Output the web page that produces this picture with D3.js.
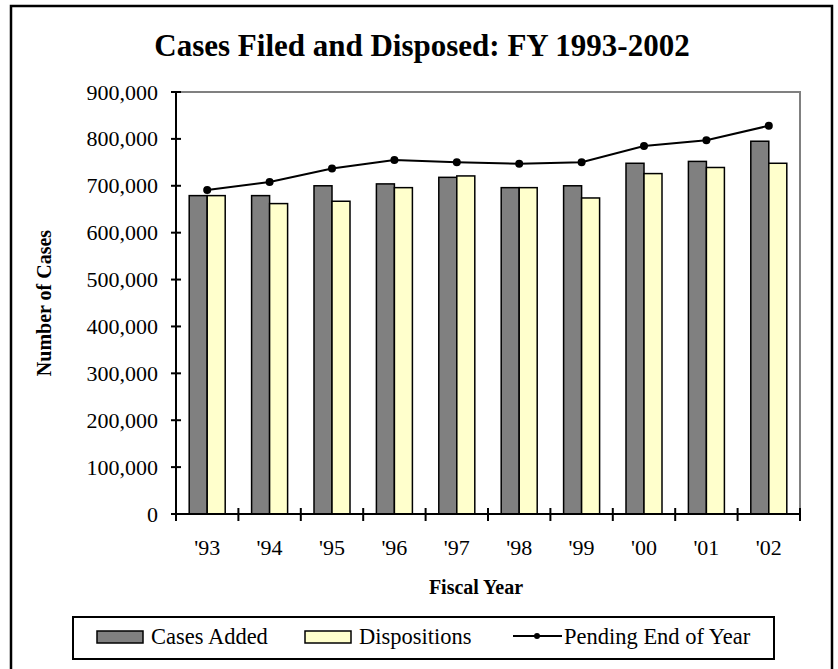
<!DOCTYPE html>
<html lang="en">
<head>
    <meta charset="UTF-8">
    <title>Cases Filed and Disposed: FY 1993-2002</title>
    <script src="https://d3js.org/d3.v7.min.js"></script>
    <style>
        body {
            margin: 0;
            padding: 0;
            background-color: white;
        }
        svg {
            display: block;
            font-family: 'Liberation Serif', 'Times New Roman', serif;
        }
        .title {
            font-size: 31px;
            font-weight: bold;
            text-anchor: middle;
        }
        .axis-title {
            font-size: 20px;
            font-weight: bold;
            text-anchor: middle;
        }
        .tick-label {
            font-size: 22px;
        }
        .legend-label {
            font-size: 22.5px;
        }
    </style>
</head>
<body>
    <svg width="838" height="669"></svg>

    <script>
        const years = ["'93", "'94", "'95", "'96", "'97", "'98", "'99", "'00", "'01", "'02"];
        const casesAdded = [679000, 679000, 700000, 704000, 718000, 696000, 700000, 748000, 752000, 795000];
        const dispositions = [679000, 662000, 667000, 696000, 721000, 696000, 674000, 726000, 739000, 748000];
        const pending = [691000, 708000, 737000, 755000, 750000, 747000, 750000, 785000, 797000, 828000];
        const yTicks = [0, 100000, 200000, 300000, 400000, 500000, 600000, 700000, 800000, 900000];

        const svg = d3.select("svg");

        const margin = { left: 176, top: 92, right: 800, bottom: 514 };
        const plotW = margin.right - margin.left;
        const plotH = margin.bottom - margin.top;

        // outer frame (bottom runs off the page)
        svg.append("path")
           .attr("d", "M11,675 L11,6 L832,6 L832,675")
           .attr("fill", "none")
           .attr("stroke", "black")
           .attr("stroke-width", 2.5);

        svg.append("text")
           .attr("class", "title")
           .attr("x", 422)
           .attr("y", 56)
           .text("Cases Filed and Disposed: FY 1993-2002");

        const g = svg.append("g")
                     .attr("transform", "translate(" + margin.left + "," + margin.top + ")");

        const xScale = d3.scaleBand()
                         .domain(years)
                         .range([0, plotW]);

        const groupW = 36;
        const xSub = d3.scaleBand()
                       .domain(["added", "disp"])
                       .range([(xScale.bandwidth() - groupW) / 2, (xScale.bandwidth() + groupW) / 2]);

        const yScale = d3.scaleLinear()
                         .domain([0, 900000])
                         .range([plotH, 0]);

        // gray plot-area border on top and right
        g.append("path")
         .attr("d", "M0,0 L" + plotW + ",0 L" + plotW + "," + plotH)
         .attr("fill", "none")
         .attr("stroke", "#808080")
         .attr("stroke-width", 2);

        const series = [
            { key: "added", values: casesAdded, color: "#808080" },
            { key: "disp", values: dispositions, color: "#FFFFCC" }
        ];

        series.forEach(function(s) {
            g.selectAll(".bar-" + s.key)
             .data(s.values)
             .enter()
             .append("rect")
             .attr("class", "bar-" + s.key)
             .attr("x", function(d, i) { return xScale(years[i]) + xSub(s.key); })
             .attr("y", function(d) { return yScale(d); })
             .attr("width", xSub.bandwidth())
             .attr("height", function(d) { return plotH - yScale(d); })
             .attr("fill", s.color)
             .attr("stroke", "black")
             .attr("stroke-width", 1.5);
        });

        const line = d3.line()
                       .x(function(d, i) { return xScale(years[i]) + xScale.bandwidth() / 2; })
                       .y(function(d) { return yScale(d); });

        g.append("path")
         .datum(pending)
         .attr("d", line)
         .attr("fill", "none")
         .attr("stroke", "black")
         .attr("stroke-width", 2);

        g.selectAll(".dot")
         .data(pending)
         .enter()
         .append("circle")
         .attr("class", "dot")
         .attr("cx", function(d, i) { return xScale(years[i]) + xScale.bandwidth() / 2; })
         .attr("cy", function(d) { return yScale(d); })
         .attr("r", 4)
         .attr("fill", "black");

        // y axis
        g.append("line")
         .attr("x1", 0).attr("y1", 0)
         .attr("x2", 0).attr("y2", plotH)
         .attr("stroke", "black")
         .attr("stroke-width", 2);

        g.selectAll(".ytick")
         .data(yTicks)
         .enter()
         .append("line")
         .attr("class", "ytick")
         .attr("x1", -5).attr("x2", 5)
         .attr("y1", function(d) { return yScale(d); })
         .attr("y2", function(d) { return yScale(d); })
         .attr("stroke", "black")
         .attr("stroke-width", 2);

        g.selectAll(".ylabel")
         .data(yTicks)
         .enter()
         .append("text")
         .attr("class", "tick-label")
         .attr("x", -18)
         .attr("y", function(d) { return yScale(d) + 7.5; })
         .attr("text-anchor", "end")
         .text(function(d) { return d3.format(",")(d); });

        // x axis
        g.append("line")
         .attr("x1", 0).attr("y1", plotH)
         .attr("x2", plotW).attr("y2", plotH)
         .attr("stroke", "black")
         .attr("stroke-width", 2);

        const xBounds = years.map(function(d) { return xScale(d); }).concat([plotW]);

        g.selectAll(".xtick")
         .data(xBounds)
         .enter()
         .append("line")
         .attr("class", "xtick")
         .attr("x1", function(d) { return d; })
         .attr("x2", function(d) { return d; })
         .attr("y1", plotH - 6)
         .attr("y2", plotH + 7)
         .attr("stroke", "black")
         .attr("stroke-width", 2);

        g.selectAll(".xlabel")
         .data(years)
         .enter()
         .append("text")
         .attr("class", "tick-label")
         .attr("x", function(d) { return xScale(d) + xScale.bandwidth() / 2; })
         .attr("y", plotH + 41)
         .attr("text-anchor", "middle")
         .text(function(d) { return d; });

        svg.append("text")
           .attr("class", "axis-title")
           .attr("x", 476)
           .attr("y", 594)
           .text("Fiscal Year");

        svg.append("text")
           .attr("class", "axis-title")
           .attr("transform", "translate(51," + (margin.top + plotH / 2) + ") rotate(-90)")
           .text("Number of Cases");

        // legend
        svg.append("rect")
           .attr("x", 73)
           .attr("y", 617)
           .attr("width", 701)
           .attr("height", 42)
           .attr("fill", "white")
           .attr("stroke", "black")
           .attr("stroke-width", 2);

        const legendData = [
            { label: "Cases Added", type: "bar", color: "#808080", x: 97 },
            { label: "Dispositions", type: "bar", color: "#FFFFCC", x: 305 },
            { label: "Pending End of Year", type: "line", x: 513 }
        ];

        legendData.forEach(function(d) {
            if (d.type === "bar") {
                svg.append("rect")
                   .attr("x", d.x)
                   .attr("y", 631)
                   .attr("width", 46)
                   .attr("height", 12)
                   .attr("fill", d.color)
                   .attr("stroke", "black")
                   .attr("stroke-width", 1.5);
                svg.append("text")
                   .attr("class", "legend-label")
                   .attr("x", d.x + 54)
                   .attr("y", 644)
                   .text(d.label);
            } else {
                svg.append("line")
                   .attr("x1", d.x).attr("x2", d.x + 49)
                   .attr("y1", 636).attr("y2", 636)
                   .attr("stroke", "black")
                   .attr("stroke-width", 2);
                svg.append("circle")
                   .attr("cx", d.x + 24)
                   .attr("cy", 636)
                   .attr("r", 3)
                   .attr("fill", "black");
                svg.append("text")
                   .attr("class", "legend-label")
                   .attr("x", d.x + 51)
                   .attr("y", 644)
                   .text(d.label);
            }
        });
    </script>
</body>
</html>
